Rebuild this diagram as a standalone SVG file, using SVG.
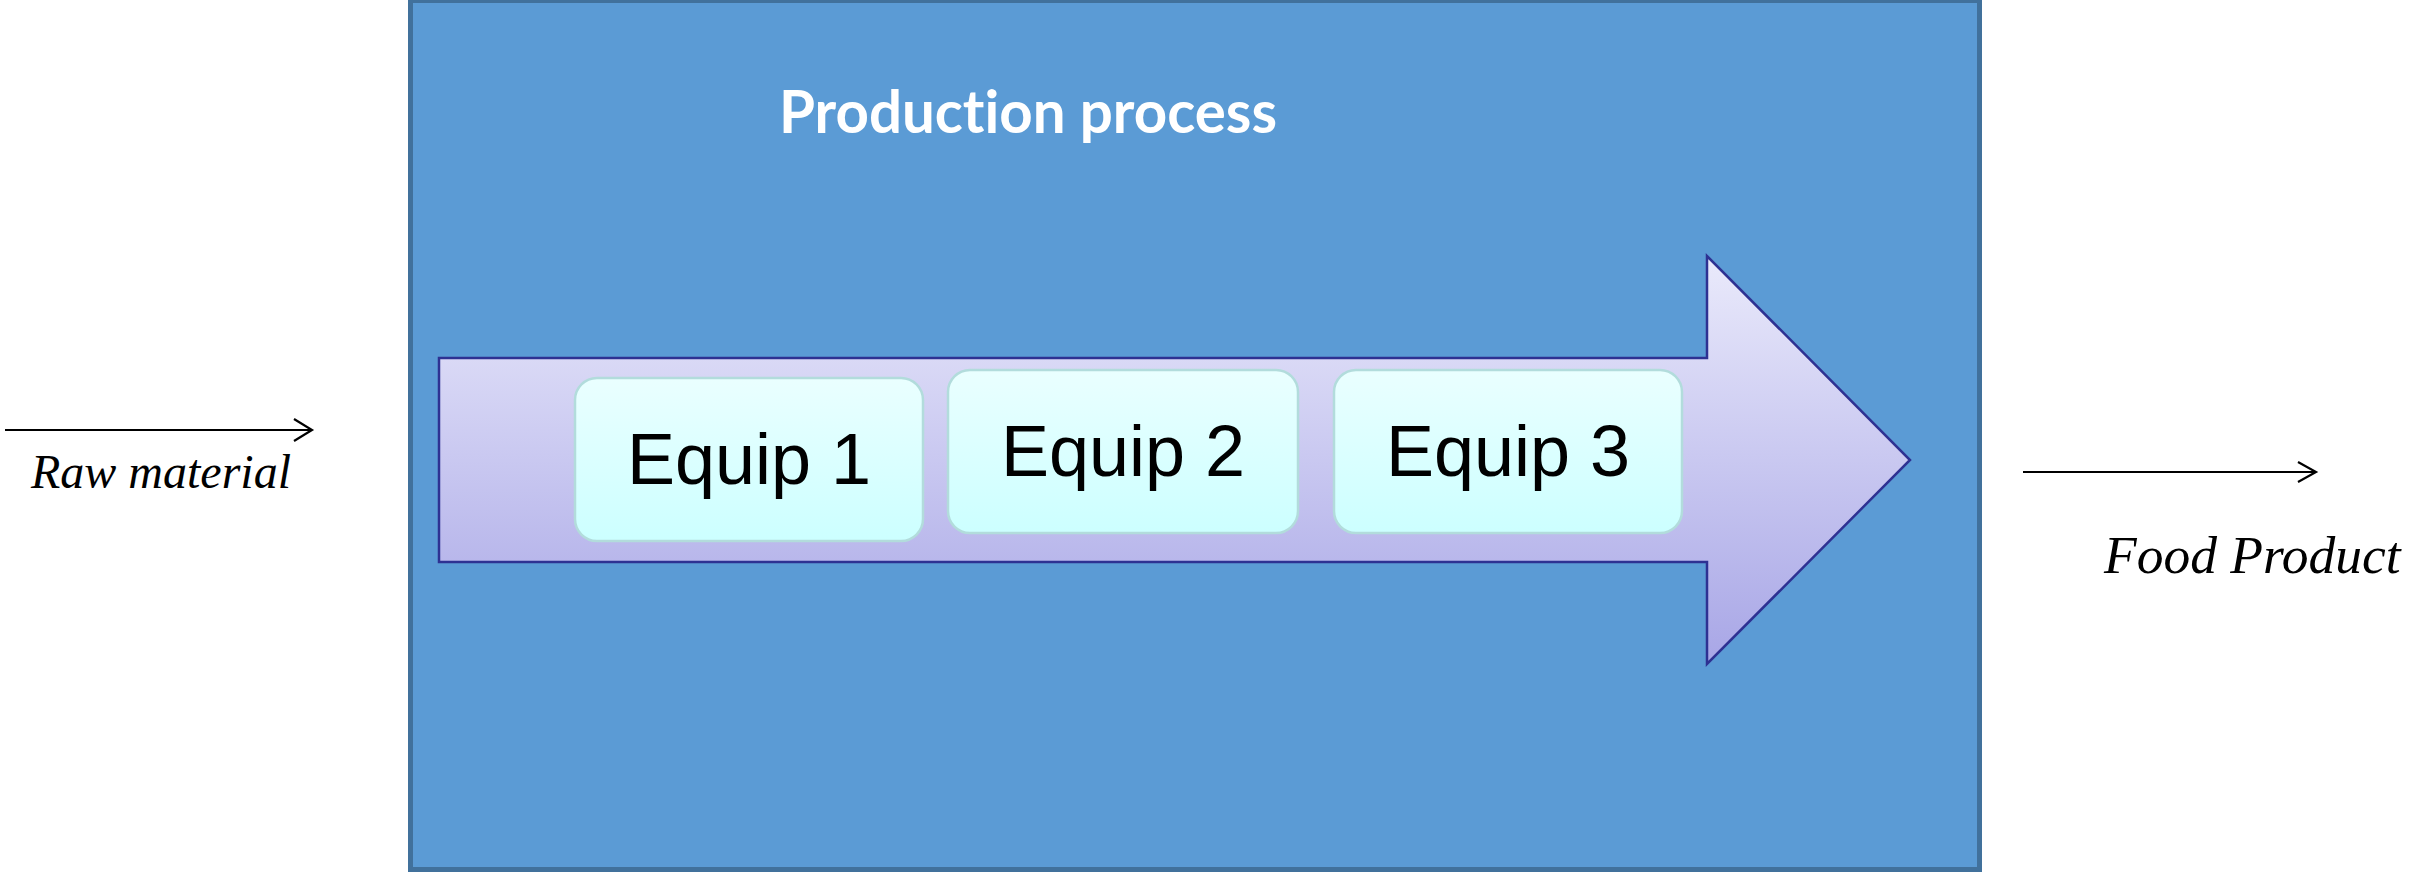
<svg xmlns="http://www.w3.org/2000/svg" width="2409" height="872" viewBox="0 0 2409 872">
<style>
.io{font-family:"Liberation Serif","Times New Roman",serif;font-style:italic;fill:#000}
.eq{font-family:"Liberation Sans",Arial,sans-serif;font-size:72px;fill:#000;text-anchor:middle}
.box{fill:url(#gBox);stroke:#B2DCDC;stroke-width:2.5}
.conn{stroke:#000;stroke-width:2.2;fill:none}
.title{font-family:Lato,"Open Sans",sans-serif;font-weight:700;font-size:60px;fill:#FFFFFF;font-variant-ligatures:none}
</style>
<defs>
<linearGradient id="gArrow" gradientUnits="userSpaceOnUse" x1="0" y1="256" x2="0" y2="664">
<stop offset="0" stop-color="#EAEAFB"/>
<stop offset="1" stop-color="#A8A6E6"/>
</linearGradient>
<linearGradient id="gBox" x1="0" y1="0" x2="0" y2="1">
<stop offset="0" stop-color="#EAFFFF"/>
<stop offset="1" stop-color="#CCFFFF"/>
</linearGradient>
</defs>
<g id="process">
<rect x="410.5" y="0.5" width="1569" height="869" fill="#5B9BD5" stroke="#41719C" stroke-width="5"/>
<text class="title" x="779" y="133" textLength="498" lengthAdjust="spacingAndGlyphs">Production process</text>
</g>
<g id="flow-arrow">
<path d="M439,358 L1707,358 L1707,256 L1910,460 L1707,664 L1707,562 L439,562 Z" fill="url(#gArrow)" stroke="#2E3192" stroke-width="2.5" stroke-linejoin="miter"/>
</g>
<g id="equip1">
<rect class="box" x="575" y="378" width="348" height="163" rx="22"/>
<text class="eq" x="749" y="484">Equip 1</text>
</g>
<g id="equip2">
<rect class="box" x="948" y="370" width="350" height="163" rx="22"/>
<text class="eq" x="1123" y="476">Equip 2</text>
</g>
<g id="equip3">
<rect class="box" x="1334" y="370" width="348" height="163" rx="22"/>
<text class="eq" x="1508" y="476">Equip 3</text>
</g>
<g id="connectors">
<line class="conn" x1="5" y1="430" x2="312" y2="430"/>
<polyline class="conn" points="294,419 312,430 294,441"/>
<line class="conn" x1="2023" y1="472" x2="2316" y2="472"/>
<polyline class="conn" points="2298,462 2316,472 2298,482"/>
</g>
<g id="raw-material">
<text class="io" x="31" y="488" font-size="48">Raw material</text>
</g>
<g id="food-product">
<text class="io" x="2104" y="573" font-size="53.5">Food Product</text>
</g>
</svg>
